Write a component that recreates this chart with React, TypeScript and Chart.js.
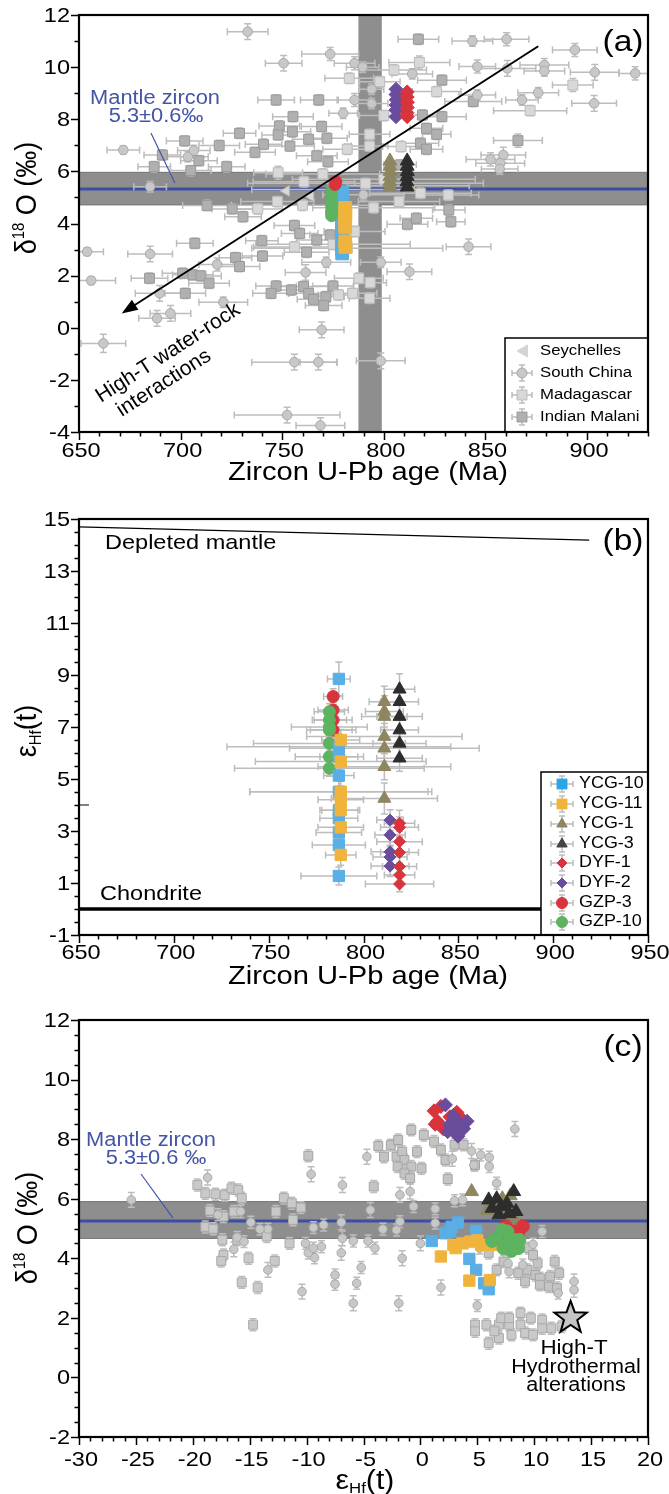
import React, { useEffect, useRef } from 'react';
import { Chart, registerables } from 'chart.js';

Chart.register(...registerables);

const FONT = "'Liberation Sans', Arial, Helvetica, sans-serif";
const W = 669;
const PLOT_LEFT = 79;
const PLOT_RIGHT = 648;
const SX = 1.12; // horizontal stretch of the reference lettering

// colours
const C_BLUE = '#5aaee6';
const C_YELLOW = '#f0b43c';
const C_OLIVE = '#8d8660';
const C_BLACK = '#2d2d2d';
const C_RED = '#d8343c';
const C_PURPLE = '#6a4c9c';
const C_GREEN = '#5db35f';
const SC_FILL = '#c8c8c8', SC_LINE = '#a9a9a9';
const MAD_FILL = '#d8d8d8', MAD_LINE = '#bcbcbc';
const MAL_FILL = '#b0b0b0', MAL_LINE = '#9a9a9a';
const ERR = '#bdbdbd';
const BAND = '#8e8e8e';
const MANTLE_BLUE = '#3d4fa3';
const MANTLE_TEXT = '#4455a6';

// ================= Panel (a): δ18O vs U-Pb age =================
const aXTicks = [650, 700, 750, 800, 850, 900];
const aYTicks = [-4, -2, 0, 2, 4, 6, 8, 10, 12];
const aAgeBand = [787.5, 799];
const aMantleBand = [4.7, 5.98];
const aMantleLine = 5.32;
const aArrow = [[876, 10.8], [671, 0.55]];
const aLeader = [[685.4, 7.47], [697.2, 5.55]];

// [age, δ18O, ageErr, δ18OErr]
const aSouthChina = [
  [733, 11.36, 10, 0.3], [773.6, 10.5, 14, 0.25], [750.7, 10.15, 9, 0.3], [785.6, 10.15, 10, 0.25],
  [789.6, 10.0, 8, 0.2], [843.6, 11.0, 10, 0.2], [860.4, 11.07, 11, 0.25], [846, 10.02, 9, 0.25],
  [860.8, 9.95, 14, 0.3], [879, 10.08, 12, 0.25], [879, 9.85, 10, 0.2], [894, 10.66, 11, 0.25],
  [903.8, 9.8, 12, 0.3], [923.7, 9.76, 8, 0.25], [814, 9.74, 10, 0.2], [794, 9.15, 6, 0.2],
  [785.6, 8.74, 8, 0.25], [780, 8.23, 7, 0.2], [846, 8.93, 9, 0.2], [868, 8.74, 8, 0.2],
  [876, 9.02, 10, 0.2], [903.5, 8.61, 11, 0.3], [671.8, 6.82, 8, 0.15], [703.6, 6.56, 10, 0.2],
  [706.5, 6.8, 8, 0.2], [852.5, 6.46, 12, 0.25], [858.8, 6.63, 11, 0.3], [857.3, 6.31, 12, 0.2],
  [857, 6.09, 9, 0.2], [685, 5.41, 8, 0.2], [654, 2.92, 8, 0.15], [656, 1.81, 12, 0.15],
  [685, 2.83, 11, 0.3], [689.7, 1.32, 12, 0.3], [688.4, 0.36, 9, 0.3], [695, 0.55, 10, 0.3],
  [662, -0.6, 11, 0.35], [718, 2.43, 9, 0.25], [721, 0.98, 12, 0.2], [761.5, 2.12, 10, 0.3],
  [771.7, 2.51, 12, 0.2], [769.4, -0.08, 11, 0.3], [756, -1.32, 21, 0.3], [767.8, -1.32, 9, 0.3],
  [752.4, -3.35, 26, 0.3], [768.8, -3.75, 12, 0.3], [798.5, -1.27, 12, 0.3], [798.5, 2.51, 10, 0.2],
  [812.6, 2.15, 11, 0.3], [841.7, 3.11, 11, 0.3], [794, 8.6, 8, 0.2], [790, 5.1, 20, 0.2],
];
const aMadagascar = [
  [783, 9.57, 12, 0.2], [798, 9.44, 10, 0.2], [826, 9.06, 12, 0.2], [893, 9.31, 10, 0.25],
  [805, 9.89, 16, 0.2], [817.5, 10.18, 15, 0.25], [800, 8.14, 12, 0.2], [872, 8.33, 18, 0.2],
  [793, 7.42, 10, 0.2], [808.5, 6.95, 9, 0.2], [782, 6.85, 12, 0.2], [793, 6.97, 9, 0.2],
  [748, 5.95, 12, 0.25], [760.7, 5.6, 25, 0.2], [791, 5.54, 58, 0.2], [800, 5.7, 45, 0.2],
  [775, 5.3, 40, 0.2], [812, 5.45, 30, 0.2], [807.5, 4.84, 20, 0.2], [818, 5.16, 25, 0.2],
  [831.7, 5.09, 15, 0.2], [747.6, 4.84, 18, 0.2], [738, 4.56, 12, 0.2], [760, 4.7, 35, 0.2],
  [785.6, 3.69, 15, 0.2], [782, 3.05, 47, 0.2], [775, 3.2, 38, 0.2], [756, 3.1, 20, 0.2],
  [787.7, 1.9, 12, 0.2], [793.3, 1.73, 8, 0.2], [793, 1.13, 10, 0.2], [784.6, 1.32, 12, 0.2],
  [777.7, 1.26, 10, 0.2], [795, 4.6, 30, 0.2], [770, 5.9, 28, 0.2],
];
const aMalani = [
  [817, 11.07, 10, 0.2], [828.6, 9.5, 12, 0.2], [844, 8.68, 14, 0.2], [747, 8.74, 9, 0.2],
  [768, 8.74, 9, 0.2], [755.3, 8.1, 10, 0.2], [819, 8.16, 10, 0.2], [828.6, 8.1, 12, 0.2],
  [748.6, 7.74, 10, 0.2], [769.4, 7.72, 10, 0.2], [729, 7.46, 8, 0.2], [748, 7.4, 8, 0.2],
  [755, 7.52, 9, 0.2], [763, 7.23, 8, 0.2], [772, 7.27, 10, 0.2], [821, 7.65, 8, 0.2],
  [826, 7.42, 7, 0.2], [702, 7.17, 9, 0.2], [719, 6.99, 10, 0.2], [740.8, 7.04, 9, 0.2],
  [753.8, 6.97, 12, 0.2], [818, 7.08, 9, 0.2], [821, 6.85, 8, 0.2], [866, 7.18, 12, 0.25],
  [736.6, 6.73, 10, 0.2], [767, 6.6, 10, 0.2], [772.5, 6.37, 10, 0.2], [709, 6.41, 9, 0.2],
  [691, 6.63, 9, 0.2], [687, 6.18, 8, 0.2], [722.7, 6.18, 9, 0.2], [705, 6.03, 10, 0.2],
  [808, 6.25, 8, 0.2], [713, 4.69, 12, 0.2], [725.4, 4.56, 10, 0.2], [730.7, 4.26, 9, 0.2],
  [832, 4.52, 8, 0.2], [811.6, 3.97, 10, 0.2], [816, 4.2, 8, 0.2], [833, 4.07, 7, 0.2],
  [756, 3.92, 10, 0.2], [758.6, 3.62, 9, 0.2], [767, 3.37, 10, 0.2], [740, 3.34, 8, 0.2],
  [707, 3.24, 9, 0.2], [762, 2.9, 11, 0.2], [773.6, 3.56, 10, 0.2], [740.3, 2.75, 10, 0.2],
  [727, 2.69, 8, 0.2], [729, 2.35, 10, 0.2], [701, 2.09, 10, 0.2], [706, 2.03, 10, 0.2],
  [710, 1.99, 10, 0.2], [714, 1.71, 10, 0.2], [684.7, 1.9, 9, 0.2], [702.3, 1.32, 10, 0.2],
  [747, 1.6, 10, 0.2], [744.5, 1.32, 9, 0.2], [754.5, 1.45, 10, 0.2], [760.5, 1.58, 12, 0.2],
  [763, 1.32, 10, 0.2], [765.4, 1.09, 8, 0.2], [771.5, 1.19, 9, 0.2], [775, 1.6, 10, 0.2],
  [770.4, 0.85, 9, 0.2],
];
const aSeychelles = [[752, 5.25], [764, 5.05]];
const aYCG10 = [[779.5, 5.2], [779.6, 5.0], [779.4, 4.8], [779.5, 4.6], [779.6, 4.4], [779.5, 4.2], [779.4, 4.0], [779.5, 3.8], [779.6, 3.6], [779.5, 3.4], [779.4, 3.2], [779.5, 3.0], [779.5, 2.85]];
const aYCG11 = [[781, 4.6], [781.1, 4.4], [781, 4.2], [780.9, 4.0], [781, 3.85], [781, 3.3], [781.1, 3.1]];
const aGZP10 = [[774.3, 5.25], [774.2, 5.05], [774.4, 4.85], [774.3, 4.65], [774.2, 4.45], [774.3, 4.3]];
const aGZP3 = [[776, 5.5], [776.4, 5.6]];
const aDYF2 = [[806, 9.15], [806, 8.95], [806.1, 8.75], [806, 8.55], [805.9, 8.35], [806, 8.1]];
const aDYF1 = [[811.5, 9.05], [811.5, 8.85], [811.6, 8.65], [811.5, 8.45], [811.4, 8.25], [811.5, 8.1]];
const aYCG1 = [[803, 6.4], [803, 6.2], [803.1, 6.0], [803, 5.8], [802.9, 5.6], [803, 5.4]];
const aYCG3 = [[811.5, 6.4], [811.5, 6.2], [811.6, 6.0], [811.5, 5.8], [811.4, 5.6], [811.5, 5.4]];

// ================= Panel (b): εHf(t) vs U-Pb age =================
const bXTicks = [650, 700, 750, 800, 850, 900, 950];
const bYTicks = [-1, 1, 3, 5, 7, 9, 11, 13, 15];
const bDepletedMantle = [[650, 14.7], [919, 14.19]];
const bChondrite = 0;
// [age, εHf, ageErr, εHfErr]
const bYCG10 = [[787, 8.85, 6, 0.65], [787, 6.24, 59, 0.5], [787, 5.86, 10, 0.5], [787, 5.13, 8, 0.5], [787, 4.51, 47, 0.5], [787, 3.8, 10, 0.5], [787, 3.49, 10, 0.5], [787, 2.94, 12, 0.5], [787, 2.46, 14, 0.5], [787, 1.27, 20, 0.35]];
const bYCG11 = [[788, 6.5, 10, 0.4], [788, 5.67, 45, 0.4], [788, 4.51, 48, 0.4], [788, 4.2, 12, 0.4], [788, 3.8, 10, 0.4], [788, 3.14, 12, 0.4], [788, 2.08, 8, 0.4]];
const bYCG1 = [[811, 7.97, 8, 0.6], [811, 7.6, 10, 0.6], [811, 7.4, 12, 0.5], [811, 6.63, 41, 0.5], [811, 6.18, 50, 0.5], [811, 5.47, 35, 0.5], [811, 4.25, 28, 0.6]];
const bYCG3 = [[819, 8.45, 8, 0.6], [819, 7.97, 10, 0.5], [819, 7.4, 12, 0.5], [819, 6.88, 10, 0.5], [819, 6.37, 14, 0.5], [819, 5.8, 12, 0.5]];
const bDYF2 = [[814, 3.42, 7, 0.4], [814, 2.85, 8, 0.4], [814, 2.2, 10, 0.4], [814, 2.0, 9, 0.4], [814, 1.65, 10, 0.4]];
const bDYF1 = [[819, 3.3, 8, 0.5], [819, 3.14, 10, 0.4], [819, 2.59, 12, 0.4], [819, 2.17, 10, 0.4], [819, 1.63, 9, 0.4], [819, 1.31, 8, 0.4], [819, 0.96, 18, 0.3]];
const bGZP3 = [[784, 8.17, 5, 0.3], [784, 7.65, 8, 0.3], [784, 7.27, 10, 0.3], [784, 6.88, 12, 0.3]];
const bGZP10 = [[782, 7.59, 8, 0.3], [782, 7.27, 9, 0.3], [782, 6.88, 12, 0.3], [782, 6.37, 40, 0.3], [782, 5.86, 18, 0.3], [782, 5.41, 50, 0.3], [782, 7.0, 20, 0.3]];

// ================= Panel (c): δ18O vs εHf(t) =================
const cXTicks = [-30, -25, -20, -15, -10, -5, 0, 5, 10, 15, 20];
const cYTicks = [-2, 0, 2, 4, 6, 8, 10, 12];
const cMantleBand = [4.65, 5.92];
const cMantleLine = 5.25;
const cLeader = [[-24.55, 6.83], [-21.74, 5.35]];
const cStar = [13.2, 2.0];
// [εHf, δ18O, 0, δ18OErr]
const cSouthChina = [
  [-25.4, 5.96, 0, 0.25], [-18.7, 6.71, 0, 0.25], [8.3, 8.34, 0, 0.25], [-4.7, 7.41, 0, 0.25],
  [-9.6, 6.82, 0, 0.25], [-6.85, 6.46, 0, 0.25], [-4.4, 5.62, 0, 0.25], [-1.8, 6.13, 0, 0.25],
  [-0.9, 6.24, 0, 0.25], [-0.6, 5.74, 0, 0.2], [1.3, 5.66, 0, 0.2], [2.8, 7.34, 0, 0.25],
  [3.7, 5.96, 0, 0.2], [4.5, 7.6, 0, 0.25], [5.3, 7.47, 0, 0.2], [6.05, 7.08, 0, 0.2],
  [6.05, 7.39, 0, 0.2], [4.7, 7.13, 0, 0.2], [6.7, 6.52, 0, 0.2], [3.0, 5.93, 0, 0.2],
  [1.3, 5.18, 0, 0.2], [1.8, 3.02, 0, 0.25], [5.0, 2.41, 0, 0.2], [10.7, 4.9, 0, 0.2],
  [9.9, 4.47, 0, 0.2], [9.0, 3.78, 0, 0.2], [13.5, 3.22, 0, 0.25], [13.5, 2.94, 0, 0.25],
  [12.1, 2.83, 0, 0.2], [7.8, 3.55, 0, 0.2], [7.7, 3.83, 0, 0.2], [5.2, 4.34, 0, 0.2],
  [0.0, 4.5, 0, 0.25], [-1.6, 4.0, 0, 0.25], [-1.9, 2.49, 0, 0.25], [-2.1, 4.95, 0, 0.2],
  [-1.8, 5.23, 0, 0.2], [-3.3, 4.98, 0, 0.2], [-4.0, 4.34, 0, 0.2], [-4.6, 4.58, 0, 0.2],
  [-5.9, 4.58, 0, 0.2], [-5.2, 3.69, 0, 0.2], [-5.6, 3.16, 0, 0.2], [-5.9, 2.49, 0, 0.25],
  [-7.5, 3.44, 0, 0.2], [-7.5, 3.13, 0, 0.2], [-6.95, 4.18, 0, 0.25], [-6.85, 4.67, 0, 0.25],
  [-6.95, 5.21, 0, 0.25], [-8.7, 4.39, 0, 0.2], [-9.3, 4.02, 0, 0.2], [-9.85, 4.18, 0, 0.2],
  [-10.1, 4.5, 0, 0.2], [-9.4, 4.34, 0, 0.2], [-10.4, 2.88, 0, 0.25], [-9.4, 5.03, 0, 0.2],
  [-8.5, 5.12, 0, 0.2], [-13.4, 4.98, 0, 0.2], [-13.4, 3.61, 0, 0.25], [-14.1, 4.98, 0, 0.2],
  [-14.9, 5.21, 0, 0.2], [-16.4, 4.3, 0, 0.25], [-17.8, 5.46, 0, 0.2], [-16.1, 4.7, 0, 0.2],
  [-15.5, 4.56, 0, 0.2], [-15.8, 5.57, 0, 0.2],
];
const cMadagascar = [
  [-19.6, 6.46, 0, 0.2], [-18.9, 6.18, 0, 0.2], [-18.0, 6.15, 0, 0.2], [-17.2, 6.12, 0, 0.2],
  [-16.6, 6.35, 0, 0.2], [-16.0, 6.29, 0, 0.2], [-18.5, 5.6, 0, 0.2], [-17.3, 5.4, 0, 0.2],
  [-16.4, 5.57, 0, 0.2], [-15.7, 6.02, 0, 0.2], [-18.9, 5.05, 0, 0.2], [-18.2, 4.99, 0, 0.2],
  [-17.4, 4.62, 0, 0.2], [-16.1, 4.62, 0, 0.2], [-17.3, 4.11, 0, 0.2], [-17.5, 3.91, 0, 0.2],
  [-15.1, 4.0, 0, 0.2], [-15.7, 3.19, 0, 0.2], [-14.3, 3.02, 0, 0.2], [-12.8, 3.91, 0, 0.2],
  [-14.7, 1.77, 0, 0.2], [-13.5, 4.73, 0, 0.2], [-12.7, 5.57, 0, 0.2], [-12.0, 6.02, 0, 0.2],
  [-11.3, 5.85, 0, 0.2], [-10.5, 5.7, 0, 0.2], [-11.2, 5.29, 0, 0.2], [-11.5, 4.5, 0, 0.2],
  [4.8, 1.77, 0, 0.2], [4.8, 1.55, 0, 0.2], [5.8, 1.77, 0, 0.2], [6.0, 1.15, 0, 0.2],
  [6.9, 1.77, 0, 0.2], [7.1, 1.99, 0, 0.2], [6.9, 1.32, 0, 0.2], [7.8, 1.77, 0, 0.2],
  [8.0, 1.43, 0, 0.2], [8.8, 2.16, 0, 0.2], [8.8, 1.77, 0, 0.2], [9.2, 1.49, 0, 0.2],
  [9.7, 1.99, 0, 0.2], [9.9, 1.43, 0, 0.2], [10.7, 1.93, 0, 0.2], [10.7, 1.65, 0, 0.2],
  [11.5, 1.65, 0, 0.2], [12.4, 1.71, 0, 0.2], [7.8, 1.99, 0, 0.2], [6.5, 1.55, 0, 0.2],
];
const cMalani = [
  [-9.85, 7.44, 0, 0.2], [-4.1, 6.41, 0, 0.2], [-3.7, 7.77, 0, 0.2], [-3.2, 7.41, 0, 0.2],
  [-2.6, 7.8, 0, 0.2], [-1.95, 7.97, 0, 0.2], [-0.8, 8.31, 0, 0.2], [0.3, 8.14, 0, 0.2],
  [-2.1, 7.41, 0, 0.2], [-1.6, 7.58, 0, 0.2], [-1.4, 7.3, 0, 0.2], [-0.8, 7.08, 0, 0.2],
  [-0.3, 7.58, 0, 0.2], [0.1, 7.02, 0, 0.2], [-2.0, 7.08, 0, 0.2], [-1.4, 6.85, 0, 0.2],
  [-0.9, 6.69, 0, 0.2], [1.2, 7.92, 0, 0.2], [1.8, 7.64, 0, 0.2], [2.2, 7.3, 0, 0.2],
  [3.0, 7.81, 0, 0.2], [3.8, 7.81, 0, 0.2], [2.4, 6.66, 0, 0.2], [4.8, 7.13, 0, 0.2],
  [6.0, 4.18, 0, 0.2], [7.3, 3.89, 0, 0.2], [6.7, 3.61, 0, 0.2], [8.6, 3.5, 0, 0.2],
  [9.4, 3.61, 0, 0.2], [10.1, 3.44, 0, 0.2], [10.5, 3.33, 0, 0.2], [11.4, 3.39, 0, 0.2],
  [12.2, 3.5, 0, 0.2], [11.8, 3.89, 0, 0.2], [10.3, 3.83, 0, 0.2], [9.2, 3.22, 0, 0.2],
  [10.5, 3.11, 0, 0.2], [11.3, 3.05, 0, 0.2], [12.0, 3.0, 0, 0.2], [9.5, 4.34, 0, 0.2],
  [9.9, 4.11, 0, 0.2],
];
const cDYF1 = [[1.2, 8.95], [1.5, 8.6], [1.8, 9.1], [2.6, 8.75], [3.2, 8.9], [3.6, 8.7], [2.0, 8.35], [1.3, 8.5], [2.9, 8.4]];
const cDYF2 = [[2.2, 9.15], [2.6, 8.5], [3.0, 8.3], [3.4, 8.55], [3.8, 8.35], [4.1, 8.6], [2.9, 8.8], [3.3, 8.1], [2.4, 8.25]];
const cYCG1 = [[4.5, 6.24], [5.9, 5.6], [6.6, 5.85], [7.2, 6.0], [7.9, 6.1], [8.3, 5.3], [7.5, 5.45]];
const cYCG3 = [[6.0, 5.96], [6.7, 6.0], [7.1, 5.74], [7.6, 5.85], [8.2, 6.24], [8.4, 5.57], [6.9, 5.46], [7.8, 5.5], [6.3, 5.68]];
const cYCG10 = [[1.0, 4.58], [2.2, 4.84], [2.75, 5.06], [3.3, 5.2], [4.9, 4.92], [4.3, 3.98], [4.9, 3.61], [5.6, 3.16], [6.0, 2.96], [2.6, 4.9]];
const cYCG11 = [[1.8, 4.06], [2.9, 4.45], [3.7, 4.5], [4.4, 4.56], [5.4, 4.45], [6.3, 4.45], [4.3, 3.25], [6.1, 3.27], [3.1, 4.34], [5.0, 4.6]];
const cGZP3 = [[7.5, 5.07], [9.0, 5.07], [8.2, 4.9], [7.3, 4.62], [8.6, 4.75]];
const cGZP10 = [[6.7, 4.67], [7.65, 4.9], [8.2, 4.62], [8.6, 4.34], [7.3, 4.34], [7.8, 4.56], [6.3, 4.58], [8.7, 4.62], [7.2, 4.95], [8.0, 4.25]];

// ================= helpers =================
function stepsBetween(min: number, max: number, step: number) {
  const out: number[] = [];
  const n = Math.round((max - min) / step);
  for (let i = 0; i <= n; i++) out.push(+(min + i * step).toFixed(4));
  return out;
}

function mk(label: string, pts: number[][], style: string, r: number, fill: string, stroke: string, extra: any = {}) {
  return {
    label,
    data: pts.map((p) => ({ x: p[0], y: p[1], xe: p[2] || 0, ye: p[3] || 0 })),
    pointStyle: style,
    pointRadius: r,
    pointHoverRadius: r,
    backgroundColor: fill,
    borderColor: stroke,
    borderWidth: 1,
    showLine: false,
    ...extra,
  };
}

function baseOptions(H: number, top: number, bottom: number, xMin: number, xMax: number, xTicks: number[], yMin: number, yMax: number, yTicks: number[]): any {
  return {
    responsive: false,
    animation: false,
    events: [],
    layout: { padding: { top, right: W - PLOT_RIGHT, left: 0, bottom: 0 } },
    plugins: { legend: { display: false }, tooltip: { enabled: false } },
    scales: {
      x: {
        type: 'linear', min: xMin, max: xMax,
        afterBuildTicks: (s: any) => { s.ticks = xTicks.map((v) => ({ value: v })); },
        afterFit: (s: any) => { s.height = H - bottom; },
        grid: { display: false, drawTicks: false },
        border: { display: false },
        ticks: { display: false },
      },
      y: {
        type: 'linear', min: yMin, max: yMax,
        afterBuildTicks: (s: any) => { s.ticks = yTicks.map((v) => ({ value: v })); },
        afterFit: (s: any) => { s.width = PLOT_LEFT; },
        grid: { display: false, drawTicks: false },
        border: { display: false },
        ticks: { display: false },
      },
    },
  };
}

function text(ctx: any, s: string, x: number, y: number, size: number, color = '#000', align = 'center', sx = SX) {
  ctx.save();
  ctx.translate(x, y);
  ctx.scale(sx, 1);
  ctx.font = `${size}px ${FONT}`;
  ctx.fillStyle = color;
  ctx.textAlign = align;
  ctx.textBaseline = 'middle';
  ctx.fillText(s, 0, 0);
  ctx.restore();
}

const errorBars = {
  id: 'errorBars',
  beforeDatasetsDraw(chart: any) {
    const { ctx, chartArea: ca, scales: { x, y } } = chart;
    ctx.save();
    ctx.beginPath();
    ctx.rect(ca.left, ca.top, ca.right - ca.left, ca.bottom - ca.top);
    ctx.clip();
    ctx.lineWidth = 1.5;
    chart.data.datasets.forEach((d: any) => {
      ctx.strokeStyle = d.errColor || ERR;
      d.data.forEach((p: any) => {
        const px = x.getPixelForValue(p.x), py = y.getPixelForValue(p.y);
        ctx.beginPath();
        if (p.xe) {
          const a = x.getPixelForValue(p.x - p.xe), b = x.getPixelForValue(p.x + p.xe);
          ctx.moveTo(a, py); ctx.lineTo(b, py);
          ctx.moveTo(a, py - 3.5); ctx.lineTo(a, py + 3.5);
          ctx.moveTo(b, py - 3.5); ctx.lineTo(b, py + 3.5);
        }
        if (p.ye) {
          const a = y.getPixelForValue(p.y - p.ye), b = y.getPixelForValue(p.y + p.ye);
          ctx.moveTo(px, a); ctx.lineTo(px, b);
          ctx.moveTo(px - 3.5, a); ctx.lineTo(px + 3.5, a);
          ctx.moveTo(px - 3.5, b); ctx.lineTo(px + 3.5, b);
        }
        ctx.stroke();
      });
    });
    ctx.restore();
  },
};

function axesFrame(xMinor: number[], yMinor: number[], xLabelOffset: number) {
  return {
    id: 'axesFrame',
    afterDraw(chart: any) {
      const { ctx, chartArea: ca, scales: { x, y } } = chart;
      ctx.save();
      ctx.strokeStyle = '#000';
      ctx.lineWidth = 1.5;
      ctx.beginPath();
      x.ticks.forEach((t: any) => { const p = Math.round(x.getPixelForValue(t.value)) + 0.5; ctx.moveTo(p, ca.bottom); ctx.lineTo(p, ca.bottom + 8); });
      xMinor.forEach((v) => { const p = Math.round(x.getPixelForValue(v)) + 0.5; ctx.moveTo(p, ca.bottom); ctx.lineTo(p, ca.bottom + 4.5); });
      y.ticks.forEach((t: any) => { const p = Math.round(y.getPixelForValue(t.value)) + 0.5; ctx.moveTo(ca.left, p); ctx.lineTo(ca.left - 8, p); });
      yMinor.forEach((v) => { const p = Math.round(y.getPixelForValue(v)) + 0.5; ctx.moveTo(ca.left, p); ctx.lineTo(ca.left - 4.5, p); });
      ctx.stroke();
      ctx.lineWidth = 2.2;
      ctx.strokeRect(ca.left, ca.top, ca.right - ca.left, ca.bottom - ca.top);
      ctx.restore();
      // tick labels
      x.ticks.forEach((t: any) => text(ctx, String(t.value), x.getPixelForValue(t.value) + 2, ca.bottom + xLabelOffset, 21));
      y.ticks.forEach((t: any) => text(ctx, String(t.value), ca.left - 9, y.getPixelForValue(t.value) + 1, 21, '#000', 'right'));
    },
  };
}

type Part = { t: string; size: number; dy: number };
function drawParts(ctx: any, parts: Part[], cx: number, cy: number, rotate: boolean) {
  ctx.save();
  ctx.translate(cx, cy);
  ctx.scale(SX, 1);
  if (rotate) ctx.rotate(-Math.PI / 2);
  ctx.fillStyle = '#000';
  ctx.textBaseline = 'alphabetic';
  ctx.textAlign = 'left';
  let total = 0;
  parts.forEach((p) => { ctx.font = `${p.size}px ${FONT}`; total += ctx.measureText(p.t).width; });
  let xx = -total / 2;
  parts.forEach((p) => {
    ctx.font = `${p.size}px ${FONT}`;
    ctx.fillText(p.t, xx, 9 + p.dy);
    xx += ctx.measureText(p.t).width;
  });
  ctx.restore();
}
const D18O_TITLE: Part[] = [{ t: 'δ', size: 27, dy: 0 }, { t: '18', size: 15, dy: -11 }, { t: ' O (‰)', size: 27, dy: 0 }];
const EHF_TITLE: Part[] = [{ t: 'ε', size: 27, dy: 0 }, { t: 'Hf', size: 15, dy: 4 }, { t: '(t)', size: 27, dy: 0 }];

function symbol(ctx: any, style: string, x: number, y: number, r: number, fill: string, stroke: string, rot = 0) {
  ctx.save();
  ctx.fillStyle = fill;
  ctx.strokeStyle = stroke;
  ctx.lineWidth = 1;
  ctx.beginPath();
  if (style === 'circle') ctx.arc(x, y, r, 0, Math.PI * 2);
  else if (style === 'rect') { const s = r * Math.SQRT1_2; ctx.rect(x - s, y - s, 2 * s, 2 * s); }
  else if (style === 'rectRot') { ctx.moveTo(x, y - r); ctx.lineTo(x + r, y); ctx.lineTo(x, y + r); ctx.lineTo(x - r, y); ctx.closePath(); }
  else if (style === 'triangle') {
    for (let k = 0; k < 3; k++) {
      const a = rot + (k * 2 * Math.PI) / 3;
      const px = x + Math.sin(a) * r, py = y - Math.cos(a) * r;
      if (k === 0) ctx.moveTo(px, py); else ctx.lineTo(px, py);
    }
    ctx.closePath();
  }
  ctx.fill();
  ctx.stroke();
  ctx.restore();
}

function legendErr(ctx: any, x: number, y: number, hw: number, vh: number) {
  ctx.save();
  ctx.strokeStyle = ERR;
  ctx.lineWidth = 1.5;
  ctx.beginPath();
  ctx.moveTo(x - hw, y); ctx.lineTo(x + hw, y);
  ctx.moveTo(x - hw, y - 3); ctx.lineTo(x - hw, y + 3);
  ctx.moveTo(x + hw, y - 3); ctx.lineTo(x + hw, y + 3);
  ctx.moveTo(x, y - vh); ctx.lineTo(x, y + vh);
  ctx.moveTo(x - 3, y - vh); ctx.lineTo(x + 3, y - vh);
  ctx.moveTo(x - 3, y + vh); ctx.lineTo(x + 3, y + vh);
  ctx.stroke();
  ctx.restore();
}

function hBand(chart: any, lo: number, hi: number, line: number) {
  const { ctx, chartArea: ca, scales: { y } } = chart;
  const y1 = y.getPixelForValue(hi), y2 = y.getPixelForValue(lo);
  ctx.save();
  ctx.fillStyle = BAND;
  ctx.fillRect(ca.left, y1, ca.right - ca.left, y2 - y1);
  ctx.strokeStyle = '#7a7a7a';
  ctx.lineWidth = 1;
  ctx.beginPath();
  ctx.moveTo(ca.left, y1 + 0.5); ctx.lineTo(ca.right, y1 + 0.5);
  ctx.moveTo(ca.left, y2 - 0.5); ctx.lineTo(ca.right, y2 - 0.5);
  ctx.stroke();
  const yl = y.getPixelForValue(line);
  ctx.strokeStyle = MANTLE_BLUE;
  ctx.lineWidth = 3;
  ctx.beginPath();
  ctx.moveTo(ca.left, yl); ctx.lineTo(ca.right, yl);
  ctx.stroke();
  ctx.restore();
}

function dataLine(chart: any, pts: number[][], color: string, width: number) {
  const { ctx, scales: { x, y } } = chart;
  ctx.save();
  ctx.strokeStyle = color;
  ctx.lineWidth = width;
  ctx.beginPath();
  ctx.moveTo(x.getPixelForValue(pts[0][0]), y.getPixelForValue(pts[0][1]));
  ctx.lineTo(x.getPixelForValue(pts[1][0]), y.getPixelForValue(pts[1][1]));
  ctx.stroke();
  ctx.restore();
}

// ================= panel builders =================
function buildA(canvas: HTMLCanvasElement) {
  const H = 490, TOP = 15, BOTTOM = 432;
  const datasets = [
    mk('GZP-3', aGZP3, 'circle', 6, C_RED, C_RED),
    mk('GZP-10', aGZP10, 'circle', 6, C_GREEN, C_GREEN),
    mk('YCG-11', aYCG11, 'rect', 9, C_YELLOW, C_YELLOW),
    mk('YCG-10', aYCG10, 'rect', 9, C_BLUE, C_BLUE),
    mk('DYF-1', aDYF1, 'rectRot', 7, C_RED, C_RED),
    mk('DYF-2', aDYF2, 'rectRot', 7, C_PURPLE, C_PURPLE),
    mk('YCG-3', aYCG3, 'triangle', 8, C_BLACK, C_BLACK),
    mk('YCG-1', aYCG1, 'triangle', 8, C_OLIVE, C_OLIVE),
    mk('Seychelles', aSeychelles, 'triangle', 6, MAD_FILL, MAD_LINE, { pointRotation: -90 }),
    mk('South China', aSouthChina, 'circle', 4.8, SC_FILL, SC_LINE),
    mk('Madagascar', aMadagascar, 'rect', 7, MAD_FILL, MAD_LINE),
    mk('Indian Malani', aMalani, 'rect', 7, MAL_FILL, MAL_LINE),
  ];
  const bands = {
    id: 'aBands',
    beforeDatasetsDraw(chart: any) {
      const { ctx, chartArea: ca, scales: { x } } = chart;
      const x1 = x.getPixelForValue(aAgeBand[0]), x2 = x.getPixelForValue(aAgeBand[1]);
      ctx.save();
      ctx.fillStyle = BAND;
      ctx.fillRect(x1, ca.top, x2 - x1, ca.bottom - ca.top);
      ctx.restore();
      hBand(chart, aMantleBand[0], aMantleBand[1], aMantleLine);
    },
  };
  const decor = {
    id: 'aDecor',
    afterDatasetsDraw(chart: any) {
      const { ctx, chartArea: ca, scales: { x, y } } = chart;
      text(ctx, 'Mantle zircon', 155, 99, 19.5, MANTLE_TEXT);
      text(ctx, '5.3±0.6‰', 156, 117, 19.5, MANTLE_TEXT);
      dataLine(chart, aLeader, MANTLE_TEXT, 1.2);
      // arrow
      const sx = x.getPixelForValue(aArrow[0][0]), sy = y.getPixelForValue(aArrow[0][1]);
      const ex = x.getPixelForValue(aArrow[1][0]), ey = y.getPixelForValue(aArrow[1][1]);
      const ang = Math.atan2(ey - sy, ex - sx);
      ctx.save();
      ctx.strokeStyle = '#000';
      ctx.fillStyle = '#000';
      ctx.lineWidth = 2;
      ctx.beginPath();
      ctx.moveTo(sx, sy);
      ctx.lineTo(ex - Math.cos(ang) * 10, ey - Math.sin(ang) * 10);
      ctx.stroke();
      ctx.beginPath();
      ctx.moveTo(ex, ey);
      ctx.lineTo(ex - Math.cos(ang) * 16 + Math.sin(ang) * 6, ey - Math.sin(ang) * 16 - Math.cos(ang) * 6);
      ctx.lineTo(ex - Math.cos(ang) * 16 - Math.sin(ang) * 6, ey - Math.sin(ang) * 16 + Math.cos(ang) * 6);
      ctx.closePath();
      ctx.fill();
      ctx.restore();
      // rotated annotation, parallel to the arrow
      ctx.save();
      ctx.translate(101, 403);
      ctx.rotate(Math.atan2(sy - ey, sx - ex));
      ctx.font = `21px ${FONT}`;
      ctx.fillStyle = '#000';
      ctx.textBaseline = 'alphabetic';
      ctx.textAlign = 'left';
      ctx.fillText('High-T water-rock', 0, 0);
      ctx.fillText('interactions', 10, 23);
      ctx.restore();
      text(ctx, '(a)', 623, 43, 30);
      // legend
      const lx = 505, ly = 338;
      ctx.save();
      ctx.fillStyle = '#fff';
      ctx.fillRect(lx, ly, ca.right - lx, ca.bottom - ly);
      ctx.strokeStyle = '#000';
      ctx.lineWidth = 1.5;
      ctx.strokeRect(lx, ly, ca.right - lx, ca.bottom - ly);
      ctx.restore();
      const rows = [351, 373, 395, 417];
      symbol(ctx, 'triangle', 524, rows[0], 7, '#d4d4d4', '#d4d4d4', -Math.PI / 2);
      legendErr(ctx, 522, rows[1], 10, 8);
      symbol(ctx, 'circle', 522, rows[1], 5, SC_FILL, SC_LINE);
      legendErr(ctx, 522, rows[2], 10, 8);
      symbol(ctx, 'rect', 522, rows[2], 7, MAD_FILL, MAD_LINE);
      legendErr(ctx, 522, rows[3], 10, 8);
      symbol(ctx, 'rect', 522, rows[3], 7, MAL_FILL, MAL_LINE);
      const labels = ['Seychelles', 'South China', 'Madagascar', 'Indian Malani'];
      labels.forEach((l, i) => text(ctx, l, 540, rows[i], 15.5, '#000', 'left', 1.08));
    },
  };
  const titles = {
    id: 'aTitles',
    afterDraw(chart: any) {
      const { ctx } = chart;
      drawParts(ctx, D18O_TITLE, 26, 198, true);
      text(ctx, 'Zircon U-Pb age (Ma)', 368, 473, 26);
    },
  };
  return new Chart(canvas, {
    type: 'scatter',
    data: { datasets } as any,
    options: baseOptions(H, TOP, BOTTOM, 650, 930, aXTicks, -4, 12, aYTicks),
    plugins: [bands, errorBars, decor, axesFrame(stepsBetween(650, 930, 10), stepsBetween(-4, 12, 1), 19.5), titles],
  } as any);
}

function buildB(canvas: HTMLCanvasElement) {
  const H = 500, TOP = 29, BOTTOM = 445;
  const datasets = [
    mk('YCG-11', bYCG11, 'rect', 8, C_YELLOW, C_YELLOW),
    mk('YCG-10', bYCG10, 'rect', 8, C_BLUE, C_BLUE),
    mk('GZP-10', bGZP10, 'circle', 6, C_GREEN, C_GREEN),
    mk('GZP-3', bGZP3, 'circle', 6, C_RED, C_RED),
    mk('DYF-1', bDYF1, 'rectRot', 6, C_RED, C_RED),
    mk('DYF-2', bDYF2, 'rectRot', 6, C_PURPLE, C_PURPLE),
    mk('YCG-3', bYCG3, 'triangle', 7.5, C_BLACK, C_BLACK),
    mk('YCG-1', bYCG1, 'triangle', 7.5, C_OLIVE, C_OLIVE),
  ];
  const lines = {
    id: 'bLines',
    beforeDatasetsDraw(chart: any) {
      const { ctx, chartArea: ca, scales: { y } } = chart;
      dataLine(chart, bDepletedMantle, '#000', 1.3);
      const yc = y.getPixelForValue(bChondrite);
      ctx.save();
      ctx.strokeStyle = '#000';
      ctx.lineWidth = 3.5;
      ctx.beginPath();
      ctx.moveTo(ca.left, yc); ctx.lineTo(ca.right, yc);
      ctx.stroke();
      ctx.lineWidth = 1;
      const y4 = y.getPixelForValue(4);
      ctx.beginPath();
      ctx.moveTo(ca.left, y4); ctx.lineTo(ca.left + 10, y4);
      ctx.stroke();
      ctx.restore();
    },
  };
  const legendItems = [
    { l: 'YCG-10', s: 'rect', r: 7, c: '#2aa6e6' },
    { l: 'YCG-11', s: 'rect', r: 7, c: C_YELLOW },
    { l: 'YCG-1', s: 'triangle', r: 6, c: C_OLIVE },
    { l: 'YCG-3', s: 'triangle', r: 6, c: '#444' },
    { l: 'DYF-1', s: 'rectRot', r: 5, c: C_RED },
    { l: 'DYF-2', s: 'rectRot', r: 5, c: C_PURPLE },
    { l: 'GZP-3', s: 'circle', r: 5.5, c: C_RED },
    { l: 'GZP-10', s: 'circle', r: 5.5, c: C_GREEN },
  ];
  const decor = {
    id: 'bDecor',
    afterDatasetsDraw(chart: any) {
      const { ctx, chartArea: ca } = chart;
      text(ctx, 'Depleted mantle', 105, 53, 21, '#000', 'left');
      text(ctx, 'Chondrite', 100, 404, 21, '#000', 'left');
      text(ctx, '(b)', 623, 52, 30);
      const lx = 541, ly = 282;
      ctx.save();
      ctx.fillStyle = '#fff';
      ctx.fillRect(lx, ly, ca.right - lx, ca.bottom - ly);
      ctx.strokeStyle = '#000';
      ctx.lineWidth = 1.5;
      ctx.strokeRect(lx, ly, ca.right - lx, ca.bottom - ly);
      ctx.restore();
      const rows = [294, 314, 334, 354, 373, 393, 413, 432];
      legendItems.forEach((it, i) => {
        legendErr(ctx, 562, rows[i], 11, 8);
        symbol(ctx, it.s, 562, rows[i], it.r, it.c, it.c);
        text(ctx, it.l, 579, rows[i], 16, '#000', 'left');
      });
    },
  };
  const titles = {
    id: 'bTitles',
    afterDraw(chart: any) {
      const { ctx } = chart;
      drawParts(ctx, EHF_TITLE, 26, 241, true);
      text(ctx, 'Zircon U-Pb age (Ma)', 368, 487, 26);
    },
  };
  return new Chart(canvas, {
    type: 'scatter',
    data: { datasets } as any,
    options: baseOptions(H, TOP, BOTTOM, 650, 950, bXTicks, -1, 15, bYTicks),
    plugins: [lines, errorBars, decor, axesFrame(stepsBetween(650, 950, 10), stepsBetween(-1, 15, 0.5), 18.5), titles],
  } as any);
}

function buildC(canvas: HTMLCanvasElement) {
  const H = 504, TOP = 30, BOTTOM = 447;
  const datasets = [
    mk('GZP-10', cGZP10, 'circle', 6.5, C_GREEN, C_GREEN),
    mk('GZP-3', cGZP3, 'circle', 6.5, C_RED, C_RED),
    mk('YCG-11', cYCG11, 'rect', 8, C_YELLOW, C_YELLOW),
    mk('YCG-10', cYCG10, 'rect', 8, C_BLUE, C_BLUE),
    mk('DYF-2', cDYF2, 'rectRot', 7, C_PURPLE, C_PURPLE),
    mk('DYF-1', cDYF1, 'rectRot', 7, C_RED, C_RED),
    mk('YCG-3', cYCG3, 'triangle', 8, C_BLACK, C_BLACK),
    mk('YCG-1', cYCG1, 'triangle', 8, C_OLIVE, C_OLIVE),
    mk('South China', cSouthChina, 'circle', 4.3, SC_FILL, SC_LINE),
    mk('Indian Malani', cMalani, 'rect', 6.3, '#c4c4c4', '#a5a5a5'),
    mk('Madagascar', cMadagascar, 'rect', 6.3, '#c9c9c9', '#aaaaaa'),
  ];
  const bands = {
    id: 'cBands',
    beforeDatasetsDraw(chart: any) { hBand(chart, cMantleBand[0], cMantleBand[1], cMantleLine); },
  };
  const decor = {
    id: 'cDecor',
    afterDatasetsDraw(chart: any) {
      const { ctx, scales: { x, y } } = chart;
      text(ctx, 'Mantle zircon', 151, 151, 19.5, MANTLE_TEXT);
      text(ctx, '5.3±0.6 ‰', 156, 169, 19.5, MANTLE_TEXT);
      dataLine(chart, cLeader, MANTLE_TEXT, 1.2);
      text(ctx, '(c)', 623, 58, 30);
      // star
      const sx = x.getPixelForValue(cStar[0]), sy = y.getPixelForValue(cStar[1]);
      ctx.save();
      ctx.beginPath();
      for (let k = 0; k < 10; k++) {
        const rr = k % 2 === 0 ? 17 : 7;
        const a = (k * Math.PI) / 5;
        const px = sx + Math.sin(a) * rr, py = sy - Math.cos(a) * rr;
        if (k === 0) ctx.moveTo(px, py); else ctx.lineTo(px, py);
      }
      ctx.closePath();
      ctx.fillStyle = '#c4c4c4';
      ctx.fill();
      ctx.strokeStyle = '#000';
      ctx.lineWidth = 2;
      ctx.stroke();
      ctx.restore();
      text(ctx, 'High-T', 574, 358, 20);
      text(ctx, 'Hydrothermal', 576, 377, 20, '#000', 'center', 1.08);
      text(ctx, 'alterations', 576, 395, 20, '#000', 'center', 1.08);
    },
  };
  const titles = {
    id: 'cTitles',
    afterDraw(chart: any) {
      const { ctx } = chart;
      drawParts(ctx, D18O_TITLE, 27, 238, true);
      drawParts(ctx, EHF_TITLE, 365, 490, false);
    },
  };
  return new Chart(canvas, {
    type: 'scatter',
    data: { datasets } as any,
    options: baseOptions(H, TOP, BOTTOM, -30, 20, cXTicks, -2, 12, cYTicks),
    plugins: [bands, errorBars, decor, axesFrame(stepsBetween(-30, 20, 1), stepsBetween(-2, 12, 0.5), 23.5), titles],
  } as any);
}

function Panel({ height, top, build }: { height: number; top: number; build: (c: HTMLCanvasElement) => Chart }) {
  const ref = useRef<HTMLCanvasElement>(null);
  useEffect(() => {
    if (!ref.current) return;
    const chart = build(ref.current);
    return () => chart.destroy();
  }, []);
  return (
    <canvas
      ref={ref}
      width={W}
      height={height}
      style={{ position: 'absolute', left: 0, top, width: W, height, display: 'block' }}
    />
  );
}

export default function App() {
  return (
    <div style={{ position: 'absolute', left: 0, top: 0, width: W, height: 1494, background: '#fff', overflow: 'hidden' }}>
      <Panel height={490} top={0} build={buildA} />
      <Panel height={500} top={490} build={buildB} />
      <Panel height={504} top={990} build={buildC} />
    </div>
  );
}
